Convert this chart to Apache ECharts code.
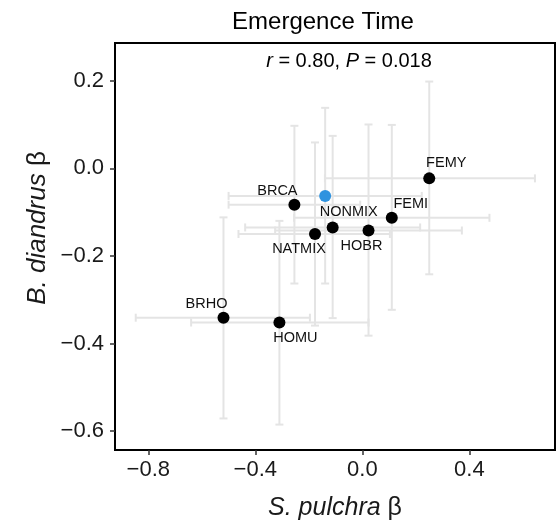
<!DOCTYPE html>
<html>
<head>
<meta charset="utf-8">
<script src="https://cdn.jsdelivr.net/npm/echarts@6/dist/echarts.min.js"></script>
<style>html,body{margin:0;padding:0;background:#fff}#c{width:558px;height:529px}</style>
</head>
<body>
<div id="c"></div>
<script>
// ---- data ----
const names  = ['FEMY', 'BRCA', 'FEMI', 'NONMIX', 'NATMIX', 'HOBR', 'BRHO', 'HOMU', ''];
const xVals  = [0.250, -0.254, 0.110, -0.111, -0.177, 0.023, -0.519, -0.310, -0.139];
const yVals  = [-0.023, -0.083, -0.113, -0.135, -0.150, -0.142, -0.341, -0.352, -0.063];
const xLow   = [-0.140, -0.500, -0.255, -0.438, -0.463, -0.326, -0.847, -0.640, -0.500];
const xHigh  = [0.645, -0.008, 0.475, 0.216, 0.103, 0.372, -0.196, 0.023, 0.222];
const yLow   = [-0.242, -0.263, -0.323, -0.342, -0.359, -0.382, -0.571, -0.585, -0.263];
const yHigh  = [0.198, 0.097, 0.099, 0.074, 0.059, 0.100, -0.112, -0.120, 0.138];
const xTicks = [-0.8, -0.4, 0.0, 0.4];
const yTicks = [-0.6, -0.4, -0.2, 0.0, 0.2];
const titleText = 'Emergence Time';

// ---- styling config ----
const FONT = 'Liberation Sans, Arial, sans-serif';
const labelOffsets = {FEMY:[17,-15], BRCA:[-17,-14], FEMI:[19,-14], NONMIX:[16,-15], NATMIX:[-16,15], HOBR:[-7,15], BRHO:[-17,-14], HOMU:[16,15]};
const highlightColor = '#2f93df';
const fmt = v => (v < 0 ? '\u2212' : '') + Math.abs(v).toFixed(1);

const errData = names.map((n, i) => [xVals[i], yVals[i], xLow[i], xHigh[i], yLow[i], yHigh[i]]);
const ptData = names.map((n, i) => ({
  value: [xVals[i], yVals[i]],
  name: n,
  itemStyle: {color: n === '' ? highlightColor : '#000', opacity: 1},
  label: n === '' ? {show:false} : {show:true, formatter:n, position:'inside', offset: labelOffsets[n]}
}));

const chart = echarts.init(document.getElementById('c'), null, {renderer:'canvas'});
const axisCommon = {
  axisLine: {show:true, onZero:false, lineStyle:{color:'#000', width:2}},
  axisTick: {show:true, length:5, lineStyle:{color:'#333', width:1.5}},
  axisLabel: {color:'#1a1a1a', fontSize:22, fontFamily:FONT, formatter: fmt},
  splitLine: {show:false}
};
chart.setOption({
  animation: false,
  backgroundColor: '#fff',
  title: [
    {text: titleText, left: 318, top: 5, textAlign: 'center',
     textStyle: {fontSize: 24, fontWeight: 'normal', color: '#000', fontFamily: FONT}},
    {text: '{i|r} = 0.80, {i|P} = 0.018', left: 344, top: 46, textAlign: 'center',
     textStyle: {fontSize: 20, fontWeight: 'normal', color: '#000', fontFamily: FONT,
       rich: {i: {fontStyle: 'italic', fontSize: 20, fontFamily: FONT, color:'#000'}}}}
  ],
  graphic: [{
    type: 'text', x: 38, y: 228, rotation: Math.PI / 2,
    style: {text: '{i|B. diandrus} β', align: 'center', verticalAlign: 'middle',
      fontSize: 26, fontFamily: FONT, fill: '#1a1a1a',
      rich: {i: {fontStyle: 'italic', fontSize: 26, fontFamily: FONT, fill: '#1a1a1a'}}}
  }],
  grid: {left: 115, right: 3, top: 43, bottom: 79, show: true, borderColor: '#000', borderWidth: 2},
  xAxis: Object.assign({}, axisCommon, {
    type: 'value', min: -0.9245, max: 0.720,
    axisTick: Object.assign({}, axisCommon.axisTick, {customValues: xTicks}),
    axisLabel: Object.assign({}, axisCommon.axisLabel, {customValues: xTicks, margin: 9}),
    name: '{i|S. pulchra} β', nameLocation: 'middle', nameGap: 46,
    nameTextStyle: {fontSize: 25, color: '#1a1a1a', fontFamily: FONT,
      rich: {i: {fontStyle: 'italic', fontSize: 25, fontFamily: FONT, color: '#1a1a1a'}}}
  }),
  yAxis: Object.assign({}, axisCommon, {
    type: 'value', min: -0.643, max: 0.286,
    axisTick: Object.assign({}, axisCommon.axisTick, {customValues: yTicks}),
    axisLabel: Object.assign({}, axisCommon.axisLabel, {customValues: yTicks, margin: 11})
  }),
  series: [
    {
      type: 'custom',
      data: errData,
      z: 1,
      renderItem: function (params, api) {
        const x = api.value(0), y = api.value(1);
        const pl = api.coord([api.value(2), y]);
        const pr = api.coord([api.value(3), y]);
        const pb = api.coord([x, api.value(4)]);
        const pt = api.coord([x, api.value(5)]);
        const c = 4;
        const st = {stroke: '#e4e4e4', lineWidth: 2, fill: null};
        const line = (x1,y1,x2,y2) => ({type:'line', shape:{x1,y1,x2,y2}, style: st});
        return {type: 'group', children: [
          line(pl[0], pl[1], pr[0], pr[1]),
          line(pl[0], pl[1]-c, pl[0], pl[1]+c),
          line(pr[0], pr[1]-c, pr[0], pr[1]+c),
          line(pb[0], pb[1], pt[0], pt[1]),
          line(pb[0]-c, pb[1], pb[0]+c, pb[1]),
          line(pt[0]-c, pt[1], pt[0]+c, pt[1])
        ]};
      }
    },
    {
      type: 'scatter',
      data: ptData,
      z: 3,
      symbolSize: 12,
      label: {color: '#111', fontSize: 14.5, fontFamily: FONT},
      emphasis: {disabled: true}
    }
  ]
});
</script>
</body>
</html>
